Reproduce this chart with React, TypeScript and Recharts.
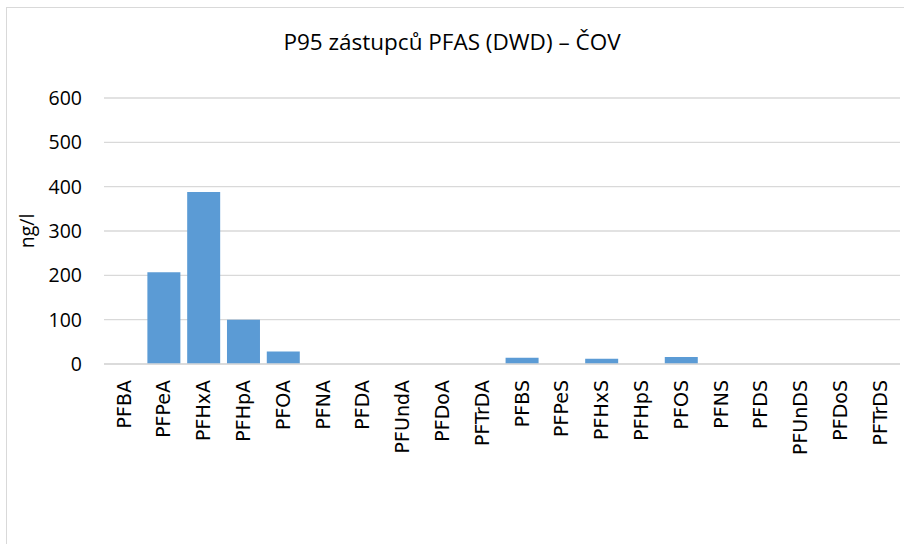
import React from "react";
import { BarChart, Bar, XAxis, YAxis, CartesianGrid } from "recharts";

const categories = [
  "PFBA", "PFPeA", "PFHxA", "PFHpA", "PFOA", "PFNA", "PFDA", "PFUndA", "PFDoA", "PFTrDA",
  "PFBS", "PFPeS", "PFHxS", "PFHpS", "PFOS", "PFNS", "PFDS", "PFUnDS", "PFDoS", "PFTrDS",
];
const p95Values = [0, 207, 388, 100, 28, 0, 0, 0, 0, 0, 14, 0, 12, 0, 16, 0, 0, 0, 0, 0];
const yTicks = [0, 100, 200, 300, 400, 500, 600];

const data = categories.map((name, i) => ({ name, value: p95Values[i] }));

const RotatedTick = (props: any) => {
  const { x, y, payload } = props;
  return (
    <text
      x={x}
      y={y}
      transform={`rotate(-90, ${x}, ${y})`}
      textAnchor="end"
      dy="0.35em"
      fontSize={19}
      fontFamily="'DejaVu Sans', sans-serif"
      fill="#000"
    >
      {payload.value}
    </text>
  );
};

export default function App() {
  return (
    <div style={{ position: "absolute", left: 0, top: 0, width: 904, height: 544, background: "#fff", overflow: "hidden", fontFamily: "'Open Sans', sans-serif" }}>
      <div style={{ position: "absolute", left: 6, top: 7, width: 920, height: 600, border: "1px solid #d9d9d9", boxSizing: "border-box" }} />
      <div style={{ position: "absolute", left: 0, top: 26, width: 904, textAlign: "center", fontSize: 22.5, color: "#000" }}>
        P95 zástupců PFAS (DWD) – ČOV
      </div>
      <div style={{ position: "absolute", left: 0, top: 0 }}>
        <BarChart
          width={904}
          height={544}
          data={data}
          margin={{ top: 98, right: 4, left: 0, bottom: 0 }}
          barCategoryGap="9%"
        >
          <CartesianGrid vertical={false} stroke="#d9d9d9" strokeWidth={1.3} />
          <XAxis
            dataKey="name"
            interval={0}
            height={180}
            axisLine={{ stroke: "#d9d9d9", strokeWidth: 1.3 }}
            tickLine={false}
            tick={<RotatedTick />}
            tickSize={0}
            tickMargin={16}
          />
          <YAxis
            width={104}
            domain={[0, 600]}
            ticks={yTicks}
            axisLine={false}
            tickLine={false}
            tickSize={0}
            tickMargin={22}
            tick={{ fontSize: 19.5, fill: "#000", fontFamily: "'Open Sans', sans-serif" }}
            label={{ value: "ng/l", angle: -90, position: "insideLeft", offset: 27, style: { fontSize: 19.5, fill: "#000", textAnchor: "middle" } }}
          />
          <Bar dataKey="value" fill="#5b9bd5" isAnimationActive={false} />
        </BarChart>
      </div>
    </div>
  );
}
